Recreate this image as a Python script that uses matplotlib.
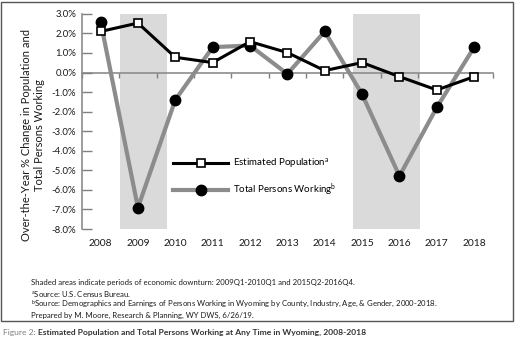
import numpy as np
import matplotlib
matplotlib.use('Agg')
import matplotlib.pyplot as plt
from matplotlib.patches import Rectangle

plt.rcParams['font.family'] = ['Lato', 'DejaVu Sans']
plt.rcParams['mathtext.default'] = 'regular'

# Over-the-year % change, Wyoming
years = [2008, 2009, 2010, 2011, 2012, 2013, 2014, 2015, 2016, 2017, 2018]
population = [2.1, 2.53, 0.78, 0.51, 1.58, 1.02, 0.10, 0.51, -0.21, -0.89, -0.21]
persons_working = [2.61, -6.91, -1.40, 1.30, 1.38, -0.07, 2.10, -1.11, -5.29, -1.78, 1.30]
# economic downturns, as fractional years
downturns = [(2008.52, 2009.77), (2014.76, 2016.54)]
y_ticks = np.arange(-8, 4, 1)

fig = plt.figure(figsize=(5.15, 3.47), dpi=100)
ax = fig.add_axes([0.159, 0.340, 0.798, 0.620])

for start, end in downturns:
    ax.axvspan(start, end, color='#dadada', lw=0, zorder=0)

ax.plot(years, persons_working, color='#8c8c8c', lw=3, marker='o', ms=7.5,
        mfc='black', mec='black', zorder=3, label='Total Persons Working$^{b}$')
ax.plot(years, population, color='black', lw=2.2, marker='s', ms=6,
        mfc='white', mec='black', mew=1.2, zorder=4, label='Estimated Population$^{a}$')

ax.set_xlim(2007.5, 2018.5)
ax.set_ylim(-8, 3)
ax.set_yticks(y_ticks)
ax.set_yticklabels(['%.1f%%' % v for v in y_ticks])
ax.tick_params(axis='y', direction='in', length=7, width=1, color='#7f7f7f',
               labelsize=6.9, labelcolor='#1a1a1a', pad=4)

for side in ['top', 'right', 'bottom']:
    ax.spines[side].set_visible(False)
ax.spines['left'].set_color('#8c8c8c')
ax.spines['left'].set_linewidth(1.2)

# year labels along the bottom
ax.set_xticks(years)
ax.set_xticklabels([str(y) for y in years])
ax.tick_params(axis='x', length=0, labelsize=7.4, labelcolor='#1a1a1a', pad=7)

# zero line with category separators
zero = ax.secondary_xaxis(0, transform=ax.transData)
zero.set_xticks(np.arange(2007.5, 2019, 1))
zero.set_xticklabels([])
zero.tick_params(direction='out', length=3.5, width=1, color='#7f7f7f')
zero.spines['bottom'].set_color('#8c8c8c')
zero.spines['bottom'].set_linewidth(1.2)

handles, labels = ax.get_legend_handles_labels()
ax.legend(handles[::-1], labels[::-1], loc='center left', bbox_to_anchor=(0.2, 0.24),
          frameon=False, fontsize=7, handlelength=5.7, labelspacing=1.15,
          handletextpad=0.5)

fig.text(0.064, 0.61, 'Over-the-Year % Change in Population and\nTotal Persons Working',
         rotation=90, ha='center', va='center', multialignment='center',
         fontsize=8, color='#1a1a1a', linespacing=1.2)

notes = [
    'Shaded areas indicate periods of economic downturn: 2009Q1-2010Q1 and 2015Q2-2016Q4.',
    '$^{a}$Source: U.S. Census Bureau.',
    '$^{b}$Source: Demographics and Earnings of Persons Working in Wyoming by County, Industry, Age, & Gender, 2000-2018.',
    'Prepared by M. Moore, Research & Planning, WY DWS, 6/26/19.',
]
for i, note in enumerate(notes):
    fig.text(0.060, 1 - (283 + i * 10.7) / 347, note, fontsize=5.6, color='#1a1a1a',
             ha='left', va='center')

# outer frame around the chart
fig.add_artist(Rectangle((0.002, 1 - 321 / 347), 0.995, 319.5 / 347,
                         transform=fig.transFigure, fill=False,
                         edgecolor='#555555', lw=1))

lead = fig.text(0.006, 1 - 332 / 347, 'Figure 2: ', fontsize=6.1, color='#7f7f7f',
                ha='left', va='center')
ax.annotate('Estimated Population and Total Persons Working at Any Time in Wyoming, 2008-2018',
            xy=(1, 0), xycoords=lead, va='bottom', ha='left',
            fontsize=6.1, fontweight='bold', color='#333333', annotation_clip=False)

fig.savefig('out.png', dpi=100)
plt.close(fig)
